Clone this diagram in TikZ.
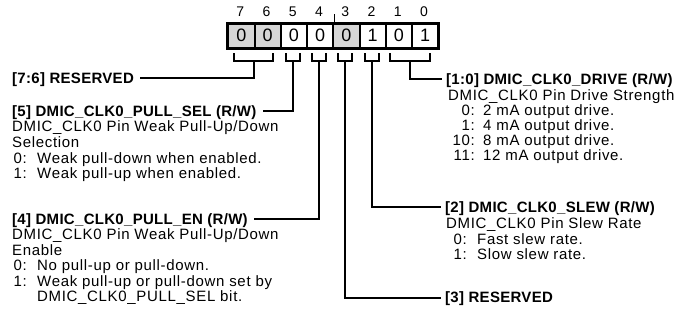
\documentclass[tikz,border=0pt]{standalone}
\usepackage{fontspec}
\setmainfont{Liberation Sans}
\newfontfamily\regf[LetterSpace=4.5]{Liberation Sans}
\newfontfamily\titf[LetterSpace=2]{Liberation Sans}
\usetikzlibrary{calc}
\definecolor{resgray}{HTML}{D6D6D6}
\tikzset{
  txt/.style={font=\regf\fontsize{15}{15}\selectfont, inner sep=0pt, anchor=base west},
  num/.style={font=\regf\fontsize{15}{15}\selectfont, inner sep=0pt, anchor=base east},
  ttl/.style={font=\titf\bfseries\fontsize{15}{15}\selectfont, inner sep=0pt, anchor=base west},
  bitnum/.style={font=\regf\fontsize{14}{14}\selectfont, inner sep=0pt, anchor=center},
  cellbox/.style={draw=black, line width=2pt, minimum width=26.25pt, minimum height=24pt, inner sep=0pt, anchor=north west, font=\fontsize{18}{18}\selectfont},
  brk/.style={line width=2pt, line join=miter},
  conn/.style={line width=2pt, line join=miter}
}
\begin{document}
\begin{tikzpicture}[x=1pt,y=1pt]
\useasboundingbox (0,0) rectangle (675,-333);
% bit cells
\foreach \b/\v/\f in {7/0/resgray,6/0/resgray,5/0/white,4/0/white,3/0/resgray,2/1/white,1/0/white,0/1/white}{
  \node[cellbox, fill=\f] (cell\b) at ({227.25+(7-\b)*26.25},-22.5) {\v};
  \node[bitnum] (num\b) at ({227.25+(7.5-\b)*26.25},-12) {\b};
}
\draw[line width=2pt] (cell7.north west) rectangle (cell0.south east);
\draw[line width=1.5pt] (cell4.north east) -- ++(0,9) coordinate (tick);
% brackets
\foreach \n/\x/\w in {b76/253.5/19.5, b5/292.9/7, b4/319.1/7, b3/345.4/7, b2/371.6/7, b10/410.3/20}{
  \draw[brk] (\x-\w,-53) -- (\x-\w,-61) -- (\x+\w,-61) -- (\x+\w,-53);
  \coordinate (\n) at (\x,-61);
}
% left texts
\node[ttl] (t76) at (12,-83.4) {[7:6] RESERVED};
\node[ttl] (t5) at (12,-116.4) {[5] DMIC\_CLK0\_PULL\_SEL (R/W)};
\node[txt] (d5a) at (12,-131.9) {DMIC\_CLK0 Pin Weak Pull-Up/Down};
\node[txt] (d5b) at (12,-147.4) {Selection};
\node[num] (n5a) at (27,-163.2) {0:};
\node[txt] (i5a) at (37,-163.2) {Weak pull-down when enabled.};
\node[num] (n5b) at (27,-178.9) {1:};
\node[txt] (i5b) at (37,-178.9) {Weak pull-up when enabled.};
\node[ttl] (t4) at (12,-224.4) {[4] DMIC\_CLK0\_PULL\_EN (R/W)};
\node[txt] (d4a) at (12,-239.9) {DMIC\_CLK0 Pin Weak Pull-Up/Down};
\node[txt] (d4b) at (12,-255.4) {Enable};
\node[num] (n4a) at (27,-270.9) {0:};
\node[txt] (i4a) at (37,-270.9) {No pull-up or pull-down.};
\node[num] (n4b) at (27,-286.4) {1:};
\node[txt] (i4b) at (37,-286.4) {Weak pull-up or pull-down set by};
\node[txt] (i4c) at (37,-301.9) {DMIC\_CLK0\_PULL\_SEL bit.};
% right texts
\node[ttl] (t10) at (446,-84.4) {[1:0] DMIC\_CLK0\_DRIVE (R/W)};
\node[txt] (d10) at (448,-100.4) {DMIC\_CLK0 Pin Drive Strength};
\node[num] (n10a) at (475,-115.4) {0:};
\node[txt] (i10a) at (483,-115.4) {2 mA output drive.};
\node[num] (n10b) at (475,-130.4) {1:};
\node[txt] (i10b) at (483,-130.4) {4 mA output drive.};
\node[num] (n10c) at (475,-145.4) {10:};
\node[txt] (i10c) at (483,-145.4) {8 mA output drive.};
\node[num] (n10d) at (475,-160.4) {11:};
\node[txt] (i10d) at (483,-160.4) {12 mA output drive.};
\node[ttl] (t2) at (445,-212.4) {[2] DMIC\_CLK0\_SLEW (R/W)};
\node[txt] (d2) at (446,-228.4) {DMIC\_CLK0 Pin Slew Rate};
\node[num] (n2a) at (467,-244.4) {0:};
\node[txt] (i2a) at (477,-244.4) {Fast slew rate.};
\node[num] (n2b) at (467,-259.4) {1:};
\node[txt] (i2b) at (477,-259.4) {Slow slew rate.};
\node[ttl] (t3) at (445,-302.9) {[3] RESERVED};
% connector ends
\coordinate (e76) at ($(t76.base east)+(6,5.4)$);
\coordinate (e5) at ($(t5.base east)+(6,5.4)$);
\coordinate (e4) at ($(t4.base east)+(6,5.4)$);
\coordinate (e10) at ($(t10.base west)+(-4,5.4)$);
\coordinate (e2) at ($(t2.base west)+(-4,5.4)$);
\coordinate (e3) at ($(t3.base west)+(-4,5.4)$);
% connectors
\draw[conn] (b76) |- (e76);
\draw[conn] (b5) |- (e5);
\draw[conn] (b4) |- (e4);
\draw[conn] (b3) |- (e3);
\draw[conn] (b2) |- (e2);
\draw[conn] (b10) |- (e10);
\end{tikzpicture}
\end{document}
